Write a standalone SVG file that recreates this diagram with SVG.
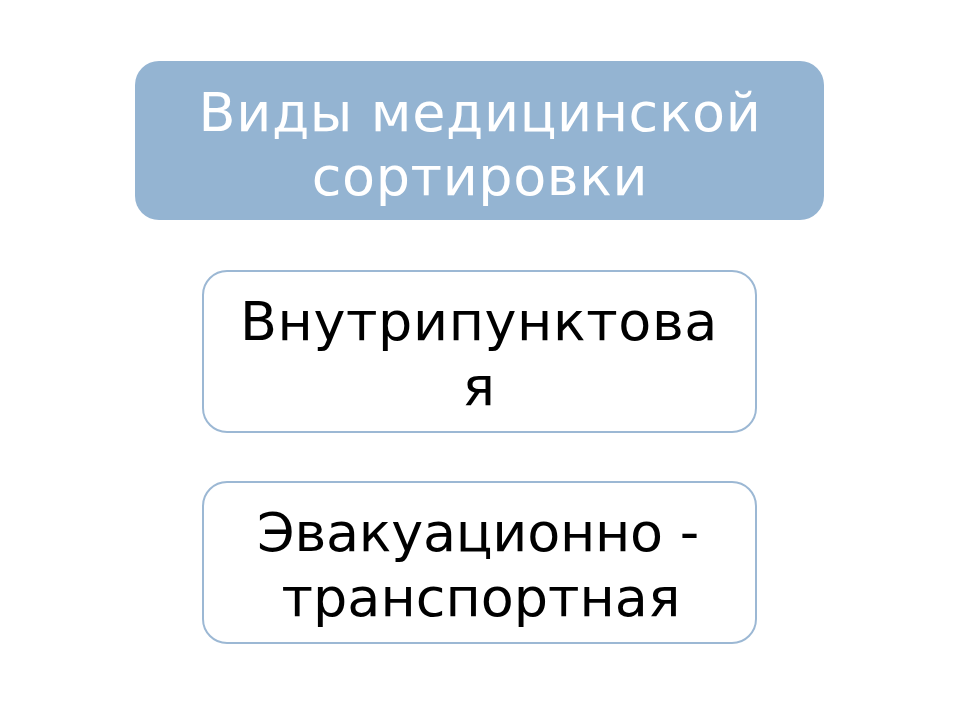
<svg xmlns="http://www.w3.org/2000/svg" width="960" height="720" viewBox="0 0 960 720">
<style>
.t{font-family:"DejaVu Sans","Noto Sans",sans-serif;font-size:54px;letter-spacing:0.6px;text-anchor:middle}
.n{letter-spacing:-0.25px}
.z{letter-spacing:0px}
.w{fill:#ffffff}
.k{fill:#000000}
.box{fill:#ffffff;stroke:#9cb8d4;stroke-width:2}
</style>
<rect width="960" height="720" fill="#ffffff"/>
<g id="title">
<rect x="135" y="61" width="689" height="159" rx="24" fill="#94b4d2"/>
<text class="t w" x="480" y="131">Виды медицинской</text>
<text class="t w" x="480" y="195">сортировки</text>
</g>
<g id="node1">
<rect class="box" x="203" y="271" width="553" height="161" rx="24"/>
<text class="t k" x="479" y="340">Внутрипунктова</text>
<text class="t k" x="479" y="405">я</text>
</g>
<g id="node2">
<rect class="box" x="203" y="482" width="553" height="161" rx="24"/>
<text class="t k n" x="478" y="551">Эвакуационно -</text>
<text class="t k z" x="481" y="616">транспортная</text>
</g>
<g id="connectors"></g>
</svg>
